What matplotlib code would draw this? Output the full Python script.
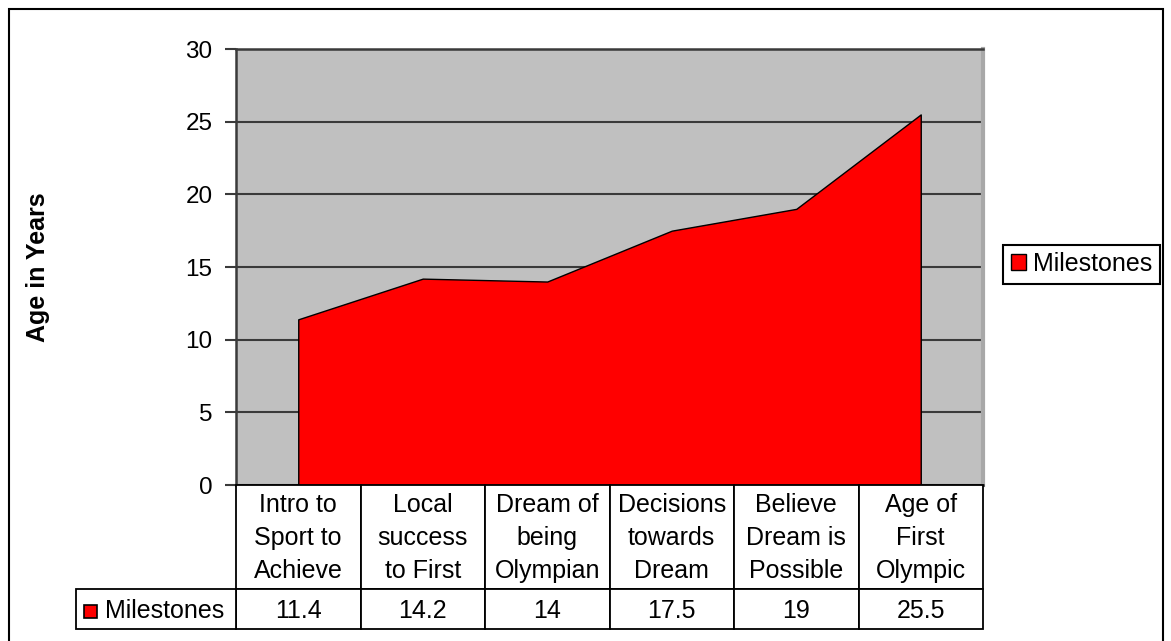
import matplotlib
matplotlib.use('Agg')
import matplotlib.pyplot as plt
from matplotlib.patches import Patch, Rectangle
import numpy as np

# data
categories = ['Intro to\nSport to\nAchieve', 'Local\nsuccess\nto First', 'Dream of\nbeing\nOlympian',
              'Decisions\ntowards\nDream', 'Believe\nDream is\nPossible', 'Age of\nFirst\nOlympic']
milestones = [11.4, 14.2, 14, 17.5, 19, 25.5]
value_labels = ['11.4', '14.2', '14', '17.5', '19', '25.5']
series_name = 'Milestones'
y_ticks = [0, 5, 10, 15, 20, 25, 30]

plt.rcParams['font.family'] = ['Liberation Sans', 'DejaVu Sans']
fs = 18
W, H = 1171, 641
red = '#FF0000'

fig = plt.figure(figsize=(W / 100, H / 100), dpi=100)

# outer chart frame
fig.patches.append(Rectangle((9 / W, -0.1), (1163 - 9) / W, 1 - 9 / H + 0.1,
                             transform=fig.transFigure, fill=False,
                             edgecolor='black', linewidth=1.5))

ax_top, ax_bot = 49, 485
ax = fig.add_axes([236 / W, (H - ax_bot) / H, (983 - 236) / W, (ax_bot - ax_top) / H])
ax.set_facecolor('#C0C0C0')

x = np.arange(len(milestones))
ax.fill_between(x, milestones, 0, facecolor=red, edgecolor='black', linewidth=1.0, zorder=3)

ax.set_xlim(-0.5, len(milestones) - 0.5)
ax.set_ylim(0, 30)
ax.set_yticks(y_ticks)
ax.set_xticks([])
ax.yaxis.grid(True, color='#3a3a3a', linewidth=1.5)
ax.set_axisbelow(True)
ax.tick_params(axis='y', labelsize=17.5, length=8, width=1.5, color='#3a3a3a', pad=9)

for side in ['left', 'top', 'bottom']:
    ax.spines[side].set_color('#3a3a3a')
    ax.spines[side].set_linewidth(1.8)
ax.spines['right'].set_color('#A8A8A8')
ax.spines['right'].set_linewidth(3)

ax.set_ylabel('Age in Years', fontsize=fs, fontweight='bold')
ax.yaxis.set_label_coords((50 - 236) / (983 - 236), 0.5)

# data table under the axis: x in data units, y in axes fraction
def ay(py):
    return (ax_bot - py) / (ax_bot - ax_top)

tr = ax.get_xaxis_transform()
hdr_top, hdr_bot, row_bot = ay(485), ay(589), ay(629)
px_per_unit = (983 - 236) / len(milestones)
label_w = 160 / px_per_unit
row_text_y = ay(611)

def cell(x0, w, y0, y1):
    ax.add_patch(Rectangle((x0, y1), w, y0 - y1, transform=tr, facecolor='white',
                           edgecolor='black', linewidth=1.3, clip_on=False, zorder=5))

for i, (cat, val) in enumerate(zip(categories, value_labels)):
    cell(i - 0.5, 1, hdr_top, hdr_bot)
    cell(i - 0.5, 1, hdr_bot, row_bot)
    ax.text(i, ay(538), cat, transform=tr, ha='center', va='center',
            fontsize=fs, linespacing=1.45, zorder=6, clip_on=False)
    ax.text(i, row_text_y, val, transform=tr, ha='center', va='center',
            fontsize=fs, zorder=6, clip_on=False)

cell(-0.5 - label_w, label_w, hdr_bot, row_bot)
ax.text(-0.5 - 12 / px_per_unit, row_text_y, series_name, transform=tr,
        ha='right', va='center', fontsize=fs, zorder=6, clip_on=False)
# legend key in the row label cell
ax.add_patch(Rectangle((-0.5 - 152 / px_per_unit, ay(618)), 13 / px_per_unit, ay(605) - ay(618),
                       transform=tr, facecolor=red, edgecolor='black', linewidth=1.2,
                       clip_on=False, zorder=6))

leg = fig.legend(handles=[Patch(facecolor=red, edgecolor='black', label=series_name)],
                 loc='center left', bbox_to_anchor=(1003 / W, 1 - 264 / H),
                 fontsize=fs, frameon=True, fancybox=False, framealpha=1,
                 edgecolor='black', borderpad=0.3, handlelength=0.6, handleheight=0.6,
                 handletextpad=0.3, borderaxespad=0)
leg.get_frame().set_linewidth(1.5)

fig.savefig('out.png', dpi=100)
plt.close(fig)
